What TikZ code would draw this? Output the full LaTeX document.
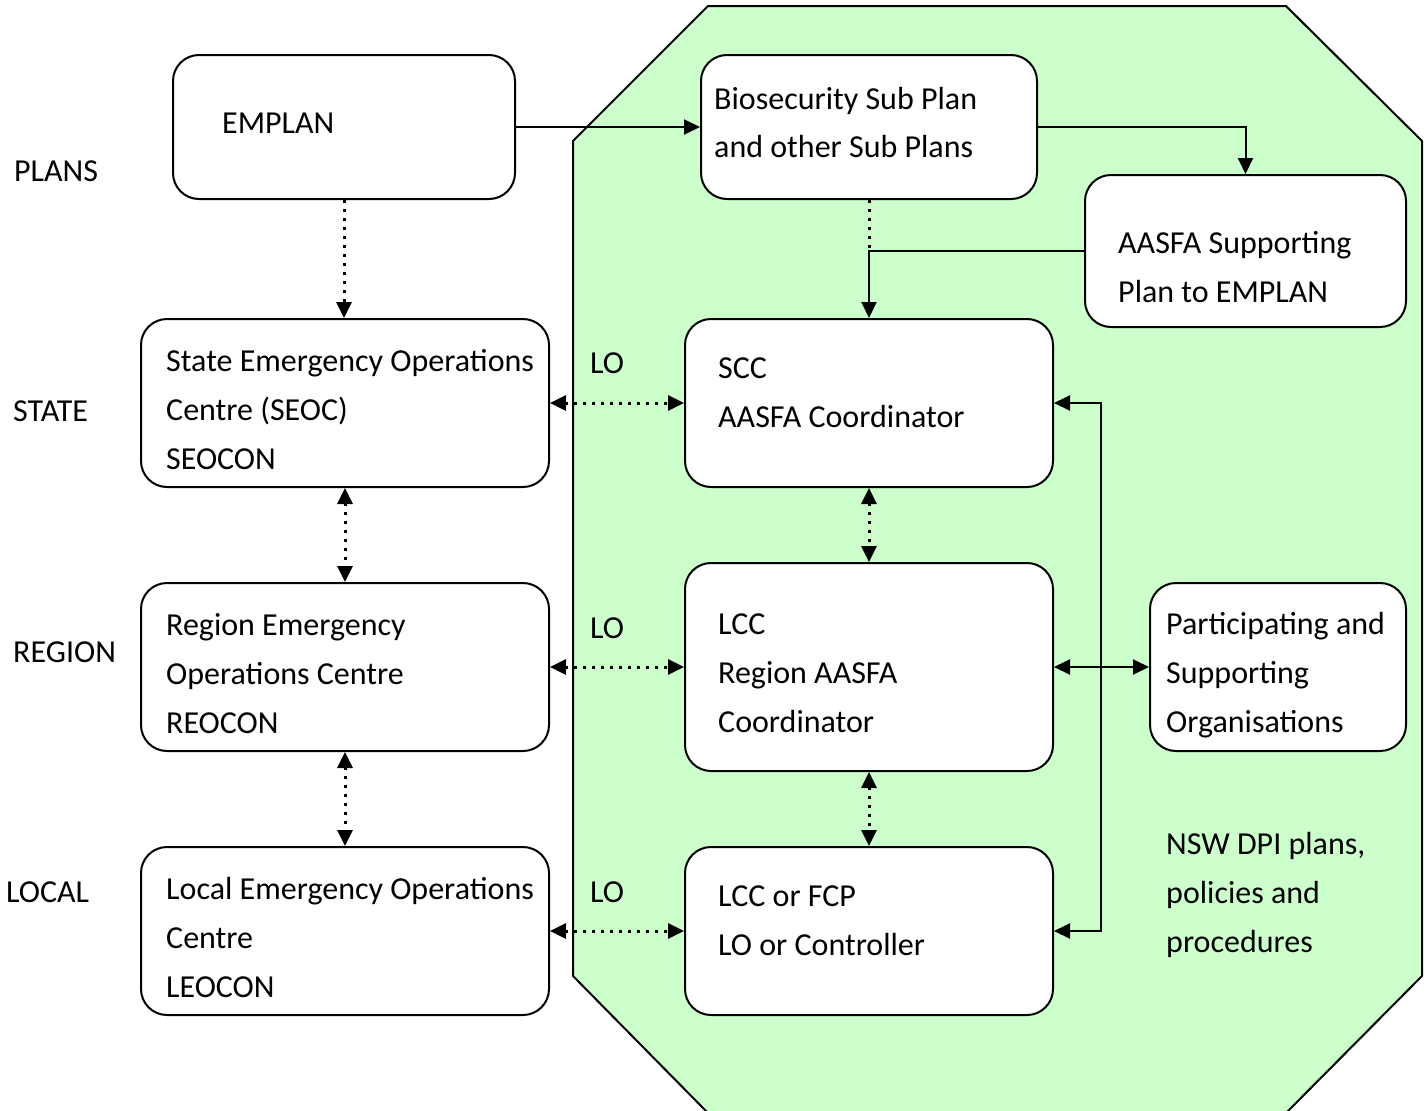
\documentclass[tikz,border=0pt]{standalone}
\usepackage{fontspec}
\setmainfont{Carlito}
\usetikzlibrary{arrows.meta}
\definecolor{zone}{HTML}{CCFFCC}
\begin{document}
\begin{tikzpicture}[x=1pt,y=-1pt,
  box/.style={draw,line width=2pt,fill=white,rounded corners=26pt,inner sep=0pt},
  txt/.style={anchor=base west,inner sep=0pt,align=left,font=\fontsize{32}{49}\selectfont},
  tip/.style={-{Triangle[length=16pt,width=15pt]}},
  dtip/.style={{Triangle[length=16pt,width=15pt]}-{Triangle[length=16pt,width=15pt]}},
  dot/.style={line width=3pt,dash pattern=on 3pt off 6pt},
  conn/.style={line width=2pt}]
\useasboundingbox (0,0) rectangle (1428,1111);
% green zone
\draw[line width=2pt,fill=zone] (708,6) -- (1286,6) -- (1422,141) -- (1422,976) -- (1287,1112) -- (707,1112) -- (573,976) -- (573,141) -- cycle;
% boxes
\node[box,minimum width=342pt,minimum height=144pt] (emplan) at (344,127) {};
\node[box,minimum width=336pt,minimum height=144pt] (bio) at (869,127) {};
\node[box,minimum width=321pt,minimum height=152pt] (aasfa) at (1245.5,251) {};
\node[box,minimum width=408pt,minimum height=168pt] (seoc) at (345,403) {};
\node[box,minimum width=368pt,minimum height=168pt] (scc) at (869,403) {};
\node[box,minimum width=408pt,minimum height=168pt] (reoc) at (345,667) {};
\node[box,minimum width=368pt,minimum height=208pt] (lcc) at (869,667) {};
\node[box,minimum width=256pt,minimum height=168pt] (part) at (1278,667) {};
\node[box,minimum width=408pt,minimum height=168pt] (leoc) at (345,931) {};
\node[box,minimum width=368pt,minimum height=168pt] (fcp) at (869,931) {};
% texts (anchored at the baseline of the last line)
\node[txt] (tplans) at (14,181) {PLANS};
\node[txt] (tstate) at (13,421) {STATE};
\node[txt] (tregion) at (13,662) {REGION};
\node[txt] (tlocal) at (6,902) {LOCAL};
\node[txt] (lo1) at (590,373) {LO};
\node[txt] (lo2) at (590,638) {LO};
\node[txt] (lo3) at (590,902) {LO};
\node[txt] (templan) at (222,133) {EMPLAN};
\node[txt,font=\fontsize{32}{48}\selectfont] (tbio) at (714,157) {Biosecurity Sub Plan\\and other Sub Plans};
\node[txt] (taasfa) at (1118,302) {AASFA Supporting\\Plan to EMPLAN};
\node[txt] (tseoc) at (166,469) {State Emergency Operations\\Centre (SEOC)\\SEOCON};
\node[txt] (tscc) at (718,427) {SCC\\AASFA Coordinator};
\node[txt] (treoc) at (166,733) {Region Emergency\\Operations Centre\\REOCON};
\node[txt] (tlcc) at (718,732) {LCC\\Region AASFA\\Coordinator};
\node[txt] (tpart) at (1166,732) {Participating and\\Supporting\\Organisations};
\node[txt] (tleoc) at (166,997) {Local Emergency Operations\\Centre\\LEOCON};
\node[txt] (tfcp) at (718,955) {LCC or FCP\\LO or Controller};
\node[txt] (tnsw) at (1166,952) {NSW DPI plans,\\policies and\\procedures};
% connectors
\coordinate (bus) at (1101,667);
\draw[conn,tip] (emplan.east) -- (bio.west);
\draw[conn,tip] (bio.east) -| (aasfa.north);
\draw[dot] (bio.south) -- (bio.south |- aasfa.west);
\draw[conn,tip] (aasfa.west) -| (scc.north);
\draw[dot,tip] (emplan.south) -- (emplan.south |- seoc.north);
\draw[dot,dtip] (seoc.south) -- (reoc.north);
\draw[dot,dtip] (reoc.south) -- (leoc.north);
\draw[dot,dtip] (seoc.east) -- (scc.west);
\draw[dot,dtip] (reoc.east) -- (lcc.west);
\draw[dot,dtip] (leoc.east) -- (fcp.west);
\draw[dot,dtip] (scc.south) -- (lcc.north);
\draw[dot,dtip] (lcc.south) -- (fcp.north);
\draw[conn,dtip] (scc.east) -| (bus) |- (fcp.east);
\draw[conn,dtip] (lcc.east) -- (part.west);
\end{tikzpicture}
\end{document}
